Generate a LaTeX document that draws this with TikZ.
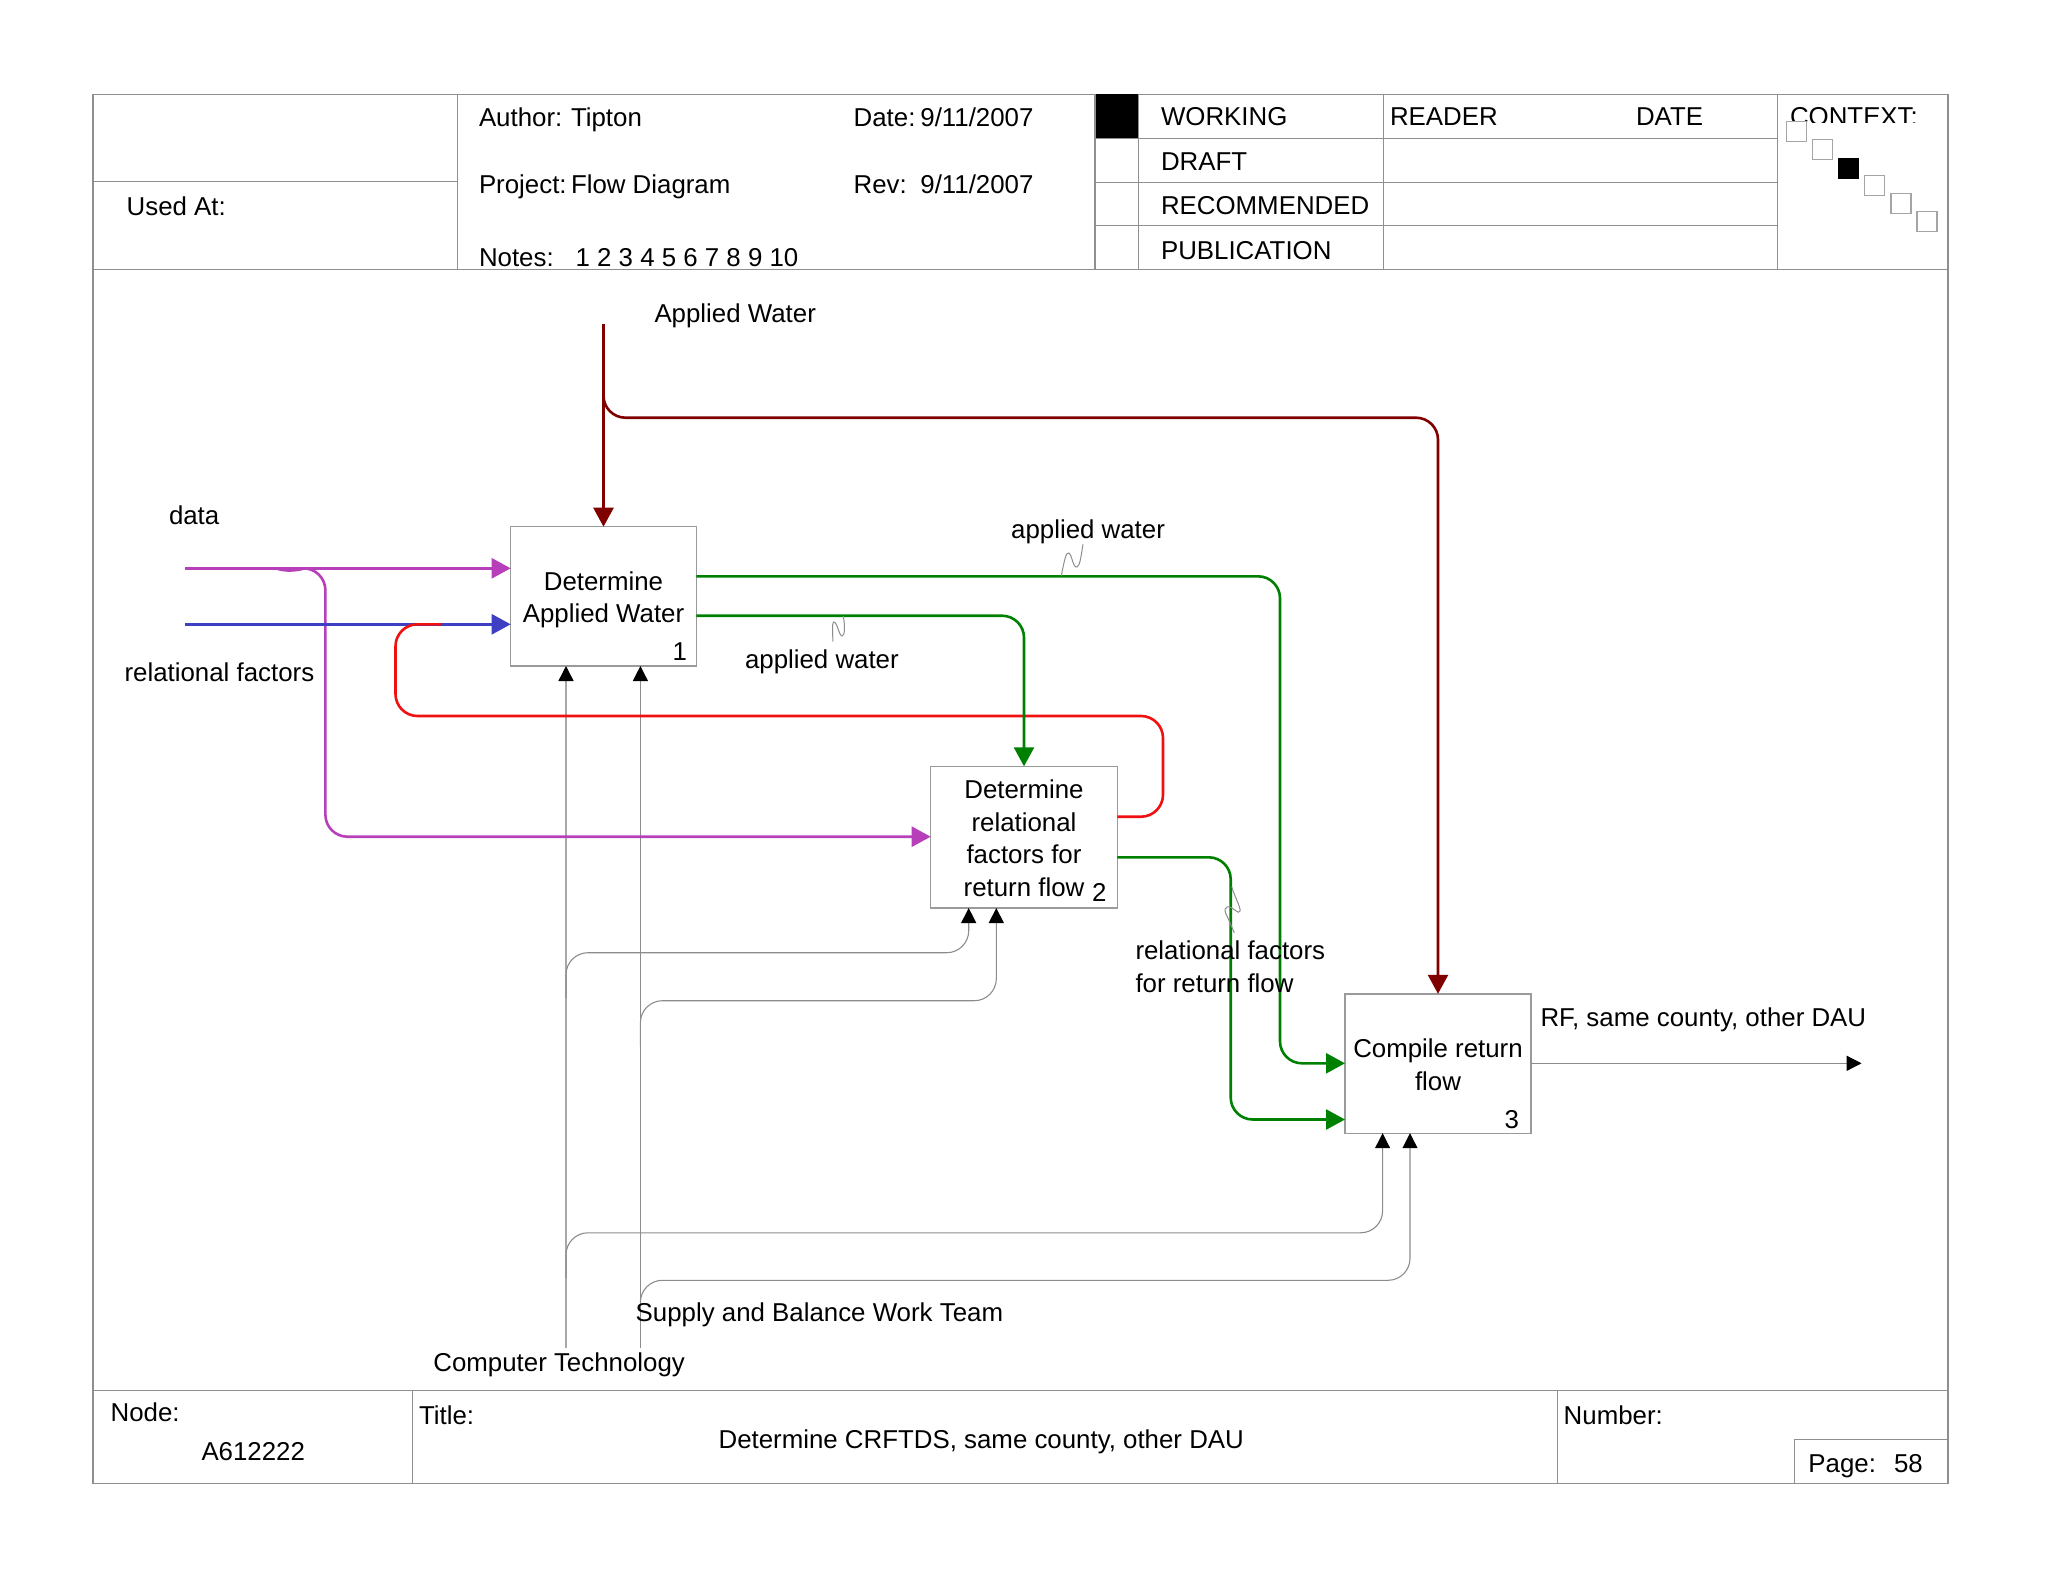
\documentclass[tikz,border=0pt]{standalone}
\usepackage{fontspec}
\setmainfont{Liberation Sans}
\usetikzlibrary{arrows.meta}
\definecolor{framegray}{HTML}{8F8F8F}
\definecolor{boxgray}{HTML}{9A9A9A}
\definecolor{ctlgray}{HTML}{8C8C8C}
\definecolor{ctllight}{HTML}{A8A8A8}
\definecolor{wine}{HTML}{800000}
\definecolor{lgreen}{HTML}{008000}
\definecolor{lmag}{HTML}{B83FBA}
\definecolor{lblue}{HTML}{3F3FC4}
\definecolor{lred}{HTML}{F01010}
\tikzset{
  txt/.style={anchor=base west,inner sep=0pt,outer sep=0pt,font=\fontsize{25.85}{32.4}\selectfont,text=black},
  boxnode/.style={draw=boxgray,line width=1.4pt,fill=white,inner sep=0pt,outer sep=0pt,align=center,font=\fontsize{25.85}{32.4}\selectfont,text=black},
  framel/.style={draw=framegray,line width=1.3pt},
  ctx/.style={draw=framegray!80,line width=1.2pt,fill=white},
  bigarrow/.style={line width=2.6pt,rounded corners=22pt,-{Triangle[length=19pt,width=20pt]}},
  ctl/.style={draw=ctlgray,line width=1.1pt,rounded corners=22pt,-{Triangle[length=15pt,width=15pt,color=black]}},
  squig/.style={draw=ctlgray,line width=1pt},
}
\begin{document}
\begin{tikzpicture}[x=1pt,y=-1pt]
\useasboundingbox (0,0) rectangle (2048,1582);
% frame
\draw[framel] (93,94.3) rectangle (1948,1483.3);
\draw[framel] (93,269.7) -- (1948,269.7);
\draw[framel] (93,1390.7) -- (1948,1390.7);
\draw[framel] (457.4,94.3) -- (457.4,269.7);
\draw[framel] (93,181.7) -- (457.4,181.7);
\fill[black] (1095,94.3) rectangle (1138.5,138.7);
\draw[framel] (1095,94.3) -- (1095,269.7);
\draw[framel] (1138.5,94.3) -- (1138.5,269.7);
\draw[framel] (1383.5,94.3) -- (1383.5,269.7);
\draw[framel] (1777.5,94.3) -- (1777.5,269.7);
\draw[framel] (1095,138.7) -- (1777.5,138.7);
\draw[framel] (1095,182.3) -- (1777.5,182.3);
\draw[framel] (1095,225.7) -- (1777.5,225.7);
\draw[framel] (412.3,1390.7) -- (412.3,1483.3);
\draw[framel] (1557.6,1390.7) -- (1557.6,1483.3);
\draw[framel] (1794.6,1483.3) -- (1794.6,1439.7) -- (1948,1439.7);
% header text
\node[txt] (tauthor) at (479,126) {Author:};
\node[txt] (ttipton) at (571,126) {Tipton};
\node[txt] (tdate) at (853.7,126) {Date:};
\node[txt] (tdatev) at (920.4,126) {9/11/2007};
\node[txt] (tproject) at (479,193) {Project:};
\node[txt] (tflow) at (571,193) {Flow Diagram};
\node[txt] (trev) at (853.7,193) {Rev:};
\node[txt] (trevv) at (920.4,193) {9/11/2007};
\node[txt] (tnotes) at (479,266) {Notes:};
\node[txt] (tnums) at (575.6,266) {1 2 3 4 5 6 7 8 9 10};
\node[txt] (tused) at (126.7,215.3) {Used At:};
\node[txt] (tworking) at (1161,125.7) {WORKING};
\node[txt] (tdraft) at (1161,170.7) {DRAFT};
\node[txt] (trecom) at (1161,214.7) {RECOMMENDED};
\node[txt] (tpub) at (1161,259) {PUBLICATION};
\node[txt] (treader) at (1390,125.7) {READER};
\node[txt] (trdate) at (1636,125.7) {DATE};
\begin{scope}
\clip (1782,96) rectangle (1945,122.7);
\node[txt] (tcontext) at (1790,125.7) {CONTEXT:};
\end{scope}
\draw[ctx] (1786.5,121.7) rectangle +(20,20);
\draw[ctx] (1812.6,139.7) rectangle +(20,20);
\draw[draw=black,fill=black] (1838.6,157.7) rectangle +(20,20);
\draw[ctx] (1864.8,175.7) rectangle +(20,20);
\draw[ctx] (1891,193.5) rectangle +(20,20);
\draw[ctx] (1917,211.5) rectangle +(20,20);
% footer text
\node[txt] (tnode) at (110.7,1421) {Node:};
\node[txt] (tnodev) at (201.5,1460) {A612222};
\node[txt] (ttitle) at (419,1424) {Title:};
\node[txt] (ttitlev) at (718.6,1448.7) {Determine CRFTDS, same county, other DAU};
\node[txt] (tnumber) at (1563.7,1424) {Number:};
\node[txt] (tpage) at (1808.4,1472.4) {Page:};
\node[txt] (tpagev) at (1894,1472.4) {58};
% activity boxes
\node[boxnode,minimum width=185.7pt,minimum height=139.3pt] (b1) at (603.5,596.35) {\rule{0pt}{26pt}Determine\\Applied Water};
\node[boxnode,minimum width=186.6pt,minimum height=141.7pt] (b2) at (1024,837.15) {\rule{0pt}{21pt}Determine\\relational\\factors for\\return flow};
\node[boxnode,minimum width=186pt,minimum height=139.4pt] (b3) at (1438,1063.5) {\rule{0pt}{21pt}Compile return\\flow};
\node[txt] (n1) at (672.5,660.3) {1};
\node[txt] (n2) at (1092,901.7) {2};
\node[txt] (n3) at (1504.5,1128) {3};
% ports and free ends
\coordinate (awtop) at (603.5,324);
\coordinate (awbr) at (603.5,372);
\coordinate (datas) at (184.8,568.3);
\coordinate (datae) at (510.7,568.3);
\coordinate (datab) at (276,568.3);
\coordinate (datab2) at (305,568.3);
\coordinate (rels) at (184.8,624.3);
\coordinate (rele) at (510.7,624.3);
\coordinate (m2in) at (930.7,836.7);
\coordinate (redo) at (1117.3,816.7);
\coordinate (rede) at (441.5,624.3);
\coordinate (go1) at (696.4,576.3);
\coordinate (go2) at (696.4,615.7);
\coordinate (go3) at (1117.3,857.3);
\coordinate (gi1) at (1345,1063.3);
\coordinate (gi2) at (1345,1119.5);
\coordinate (out1) at (1531,1063.3);
\coordinate (out2) at (1861.6,1063.3);
\coordinate (ctsrc) at (566,1348);
\coordinate (stsrc) at (640.4,1348);
\coordinate (ct1) at (566,666);
\coordinate (st1) at (640.4,666);
\coordinate (ctb2) at (566,998);
\coordinate (stb2) at (640.4,1046.7);
\coordinate (ct2) at (968.7,908);
\coordinate (st2) at (996.3,908);
\coordinate (ctb3) at (566,1278);
\coordinate (stb3) at (640.4,1303);
\coordinate (ct3) at (1382.6,1133.2);
\coordinate (st3) at (1410,1133.2);
% control arrows
\draw[ctl,draw=ctllight,line width=1.5pt] (ctsrc) -- (ct1);
\draw[ctl] (stsrc) -- (st1);
\draw[ctl] (ctb2) |- (968.7,952.7) -- (ct2);
\draw[ctl] (stb2) |- (996.3,1000.7) -- (st2);
\draw[ctl] (ctb3) |- (1382.6,1232.8) -- (ct3);
\draw[ctl] (stb3) |- (1410,1280.3) -- (st3);
% inputs
\draw[draw=lmag,line width=2.6pt] (datab) .. controls (285,571.5) and (295,571) .. (datab2);
\draw[bigarrow,draw=lmag] (datab2) -- (325.4,568.3) -- (325.4,836.7) -- (m2in);
\draw[bigarrow,draw=lblue] (rels) -- (rele);
\draw[bigarrow,draw=lmag] (datas) -- (datae);
\draw[line width=2.6pt,rounded corners=22pt,draw=lred] (redo) -| (1163,716) -| (395.5,624.3) -- (rede);
\draw[bigarrow,draw=lgreen] (go1) -| (1280,1063.3) -- (gi1);
\draw[bigarrow,draw=lgreen] (go2) -| (b2.north);
\draw[bigarrow,draw=lgreen] (go3) -| (1230.7,1119.5) -- (gi2);
\draw[bigarrow,draw=wine] (awtop) -- (b1.north);
\draw[bigarrow,draw=wine] (awbr) |- (1438,417.7) -- (b3.north);
\draw[draw=ctlgray,line width=1.3pt,-{Triangle[length=15pt,width=15pt,color=black]}] (out1) -- (out2);
% squiggles
\coordinate (sq1a) at (1061.3,576);
\coordinate (sq1b) at (1083,544.3);
\draw[squig] (sq1a) .. controls (1064,562) and (1066,551) .. (1069,553) .. controls (1072,555) and (1073,568) .. (1077,567) .. controls (1080,566) and (1081,556) .. (sq1b);
\coordinate (sq2a) at (843.3,616);
\coordinate (sq2b) at (832.9,641.7);
\draw[squig] (sq2a) .. controls (845,626) and (845,636) .. (842,636) .. controls (839,636) and (837,621) .. (833.5,622) .. controls (832,623) and (832.7,634) .. (sq2b);
\coordinate (sq3a) at (1231.7,886.7);
\coordinate (sq3b) at (1234.3,932.7);
\draw[squig] (sq3a) .. controls (1234,895) and (1241,908) .. (1240,911) .. controls (1239,916) and (1232,905) .. (1227,907) .. controls (1223,909) and (1226,914) .. (1227,916) -- (sq3b);
% labels
\node[txt] (lapw) at (654.5,322) {Applied Water};
\node[txt] (ldata) at (169,524.3) {data};
\node[txt] (lrel) at (124.6,681.7) {relational factors};
\node[txt] (law1) at (1011.2,538.3) {applied water};
\node[txt] (law2) at (745,668.7) {applied water};
\node[txt] (lrf1) at (1135.5,959.7) {relational factors};
\node[txt] (lrf2) at (1135.5,992) {for return flow};
\node[txt] (lrf) at (1540.5,1026.5) {RF, same county, other DAU};
\node[txt] (lsup) at (635.7,1321.7) {Supply and Balance Work Team};
\node[txt] (lcomp) at (433.4,1371) {Computer Technology};
\end{tikzpicture}
\end{document}
